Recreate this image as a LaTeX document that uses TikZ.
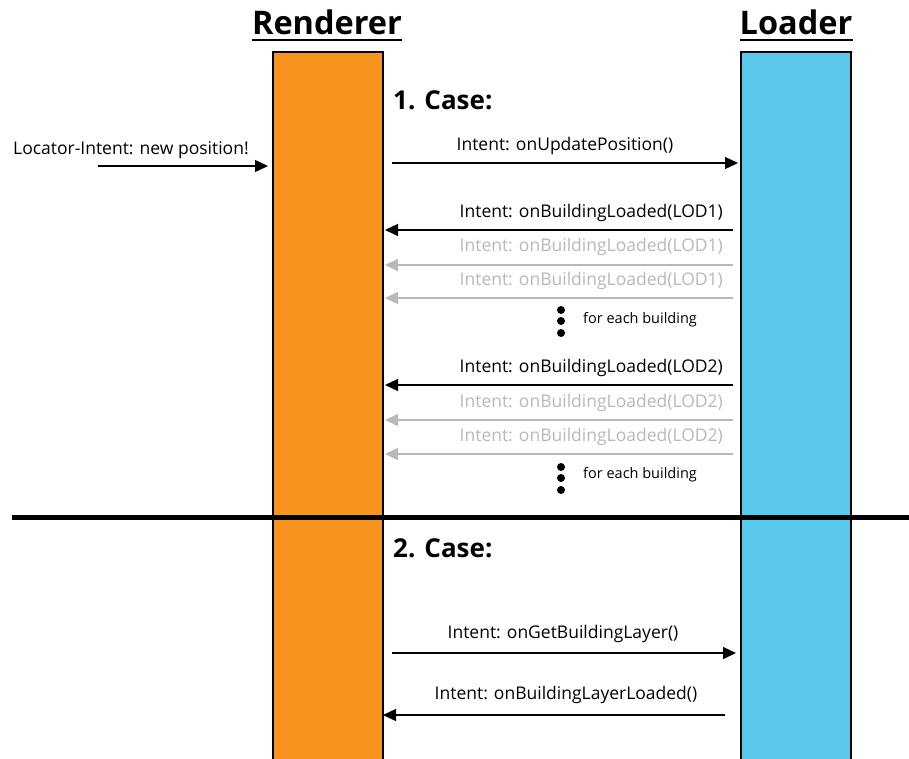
\documentclass[tikz,border=0pt]{standalone}
\usepackage{fontspec}
\setmainfont{Open Sans}
\usetikzlibrary{arrows.meta}
\definecolor{rendorange}{HTML}{F7941D}
\definecolor{loadblue}{HTML}{5BC8EE}
\definecolor{ghost}{HTML}{B8B8B8}
\begin{document}
\begin{tikzpicture}[x=1pt,y=-1pt,
  title/.style={font=\fontsize{32.5}{36}\selectfont\bfseries, inner sep=0pt},
  casetitle/.style={font=\fontsize{26}{30}\selectfont\bfseries, inner sep=0pt, anchor=west},
  msg/.style={font=\fontsize{17.5}{20}\selectfont, inner sep=0pt},
  note/.style={font=\fontsize{14.5}{17}\selectfont, inner sep=0pt, anchor=west},
  call/.style={-{Triangle[length=13pt,width=12pt]}, line width=1.3pt},
  faded/.style={-{Triangle[length=13pt,width=12pt]}, line width=1.3pt, draw=ghost},
  dot/.style={circle, fill=black, inner sep=0pt, minimum size=8pt},
  lifeline/.style={draw=black, line width=2.5pt}
]
\useasboundingbox (0,0) rectangle (909,758);
\clip (0,0) rectangle (909,758);

% lifeline bars, open at the bottom
\fill[rendorange] (273,52) rectangle (383,770);
\draw[lifeline] (273,770) -- (273,52) -- (383,52) -- (383,770);
\fill[loadblue] (741,52) rectangle (851,770);
\draw[lifeline] (741,770) -- (741,52) -- (851,52) -- (851,770);
\node[inner sep=0pt, minimum width=110pt, minimum height=1pt, anchor=north] (renderer) at (328,52) {};
\node[inner sep=0pt, minimum width=110pt, minimum height=1pt, anchor=north] (loader) at (796,52) {};

% headings
\node[title] (rtitle) at (327,22) {Renderer};
\node[title] (ltitle) at (796,22) {Loader};
\draw[line width=2.5pt] (252,40) -- (402,40);
\draw[line width=2.5pt] (740,40) -- (853,40);

% separator between the two cases
\draw[line width=5pt] (12,517) -- (909,517);

% case 1
\node[casetitle] (case1) at (393,100) {1. Case:};

\coordinate (ext) at (98,166);
\coordinate (rin0) at (268,166);
\draw[call] (ext) -- (rin0);
\node[msg, anchor=west] (m0) at (13,150) {Locator-Intent: new position!};

\coordinate (rout1) at (392,163);
\coordinate (lin1) at (738,163);
\draw[call] (rout1) -- (lin1);
\node[msg] (m1) at (565,146) {Intent: onUpdatePosition()};

\coordinate (lout2) at (733,230);
\coordinate (rin2) at (385,230);
\draw[call] (lout2) -- (rin2);
\node[msg, anchor=east] (m2) at (723,213) {Intent: onBuildingLoaded(LOD1)};

\coordinate (lout3) at (733,265);
\coordinate (rin3) at (385,265);
\draw[faded] (lout3) -- (rin3);
\node[msg, anchor=east, text=ghost] (m3) at (723,247) {Intent: onBuildingLoaded(LOD1)};

\coordinate (lout4) at (733,298);
\coordinate (rin4) at (385,298);
\draw[faded] (lout4) -- (rin4);
\node[msg, anchor=east, text=ghost] (m4) at (723,281) {Intent: onBuildingLoaded(LOD1)};

\node[dot] (d1a) at (561,310) {};
\node[dot] (d1b) at (561,321) {};
\node[dot] (d1c) at (561,333) {};
\node[note] (n1) at (583,320) {for each building};

\coordinate (lout5) at (733,385);
\coordinate (rin5) at (385,385);
\draw[call] (lout5) -- (rin5);
\node[msg, anchor=east] (m5) at (723,368) {Intent: onBuildingLoaded(LOD2)};

\coordinate (lout6) at (733,420);
\coordinate (rin6) at (385,420);
\draw[faded] (lout6) -- (rin6);
\node[msg, anchor=east, text=ghost] (m6) at (723,403) {Intent: onBuildingLoaded(LOD2)};

\coordinate (lout7) at (733,454);
\coordinate (rin7) at (385,454);
\draw[faded] (lout7) -- (rin7);
\node[msg, anchor=east, text=ghost] (m7) at (723,437) {Intent: onBuildingLoaded(LOD2)};

\node[dot] (d2a) at (561,467) {};
\node[dot] (d2b) at (561,478) {};
\node[dot] (d2c) at (561,490) {};
\node[note] (n2) at (583,475) {for each building};

% case 2
\node[casetitle] (case2) at (393,548) {2. Case:};

\coordinate (rout8) at (392,653);
\coordinate (lin8) at (736,653);
\draw[call] (rout8) -- (lin8);
\node[msg] (m8) at (563,634) {Intent: onGetBuildingLayer()};

\coordinate (lout9) at (725,715);
\coordinate (rin9) at (383,715);
\draw[call] (lout9) -- (rin9);
\node[msg] (m9) at (566,695) {Intent: onBuildingLayerLoaded()};
\end{tikzpicture}
\end{document}
